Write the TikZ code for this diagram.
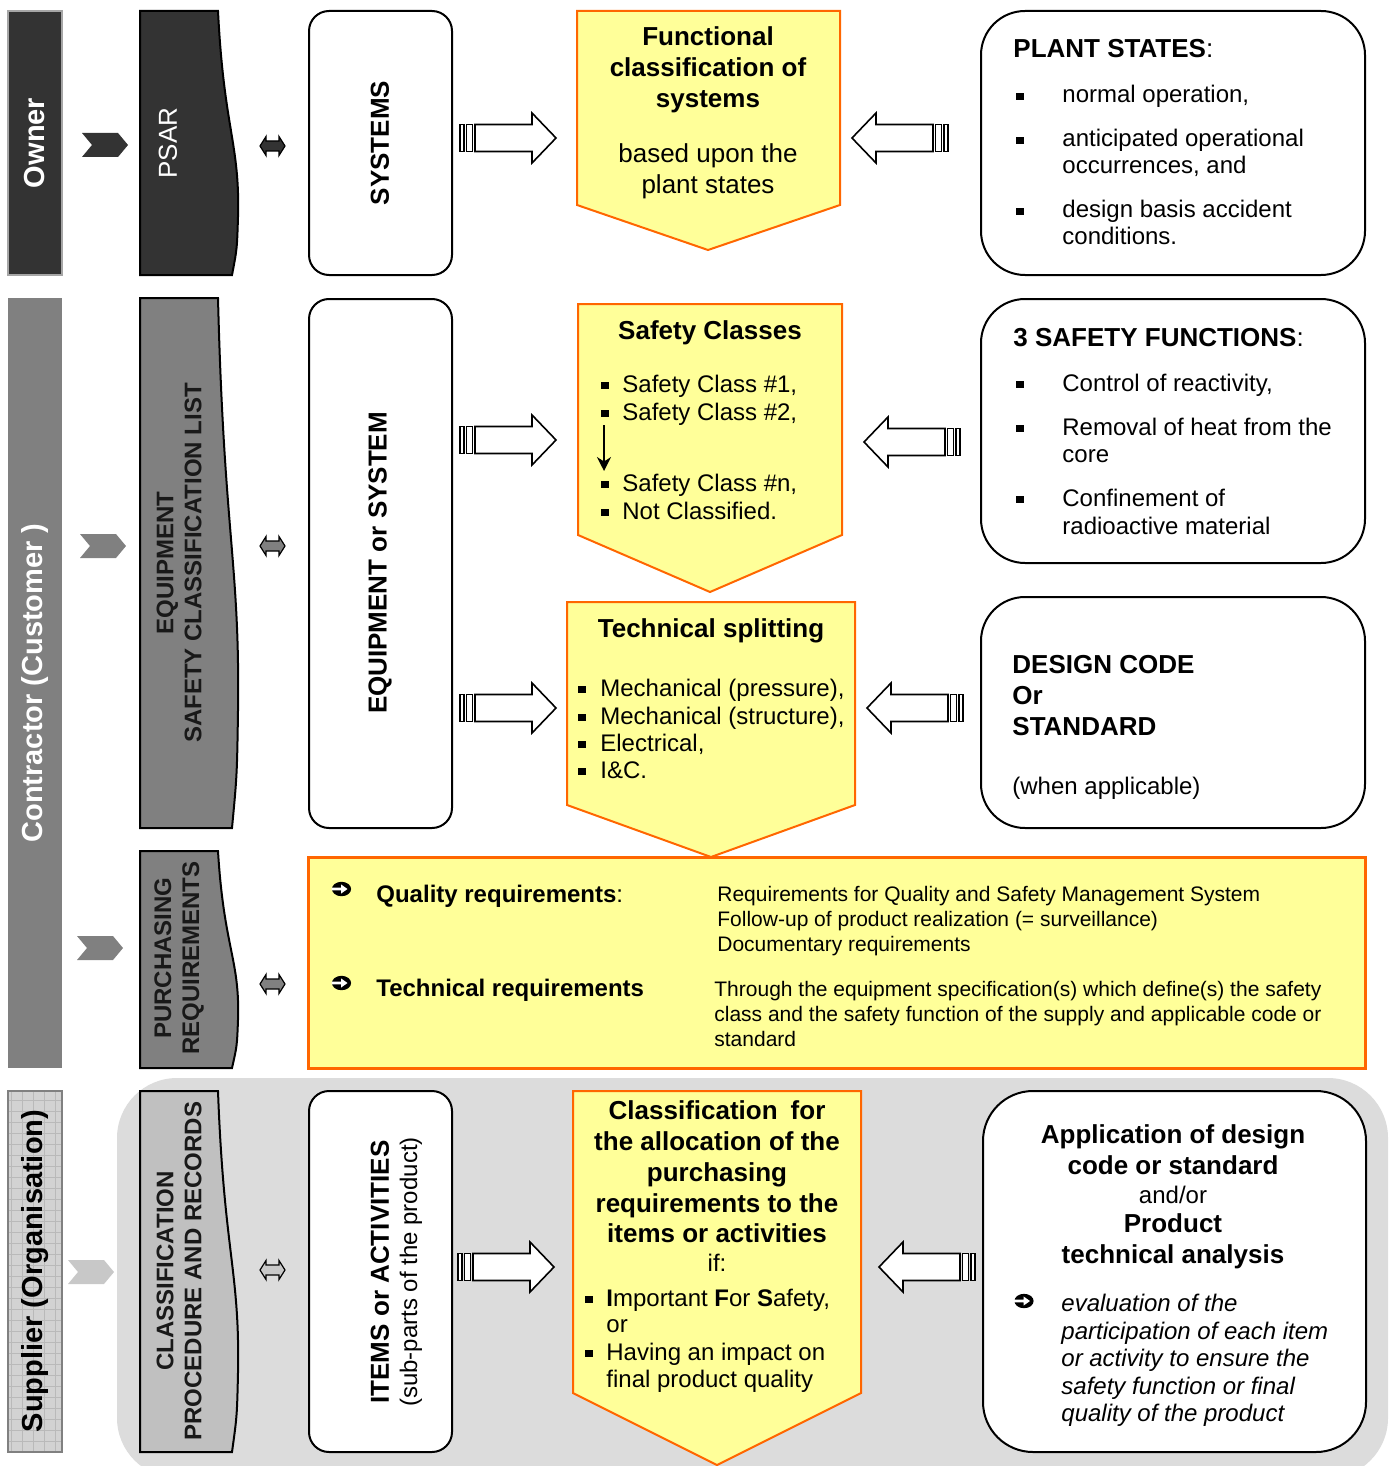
\documentclass[tikz,border=0pt]{standalone}
\usepackage{fontspec}
\setmainfont{Liberation Sans}
\usetikzlibrary{arrows.meta}
\definecolor{cdark}{HTML}{333333}
\definecolor{cmid}{HTML}{808080}
\definecolor{clight}{HTML}{D2D2D2}
\definecolor{cdoc}{HTML}{C0C0C0}
\definecolor{cchev}{HTML}{C8C8C8}
\definecolor{cyel}{HTML}{FFFF99}
\definecolor{corg}{HTML}{FF6600}
\definecolor{cbg}{HTML}{DCDCDC}
\newcommand\fA{\fontsize{13}{15.5}\selectfont}
\newcommand\fB{\fontsize{12}{14}\selectfont}
\newcommand\fC{\fontsize{10.5}{12.5}\selectfont}
\newcommand\fD{\fontsize{14.5}{17}\selectfont}
\newcommand\bul[1]{\makebox[#1][l]{\rule[1.6pt]{3.6pt}{3.6pt}}}
\tikzset{
  chev/.pic={\path[pic actions] (0,-12) -- (36,-12) -- (46,0) -- (36,12) -- (0,12) -- (10,0) -- cycle;},
  dbl/.pic={\path[pic actions, draw=black, line width=0.6pt] (-12.5,0) -- (-6.5,-9.5) -- (-6.5,-5) -- (6.5,-5) -- (6.5,-9.5) -- (12.5,0) -- (6.5,9.5) -- (6.5,5) -- (-6.5,5) -- (-6.5,9.5) -- cycle;},
  blk/.pic={
    \path[draw=black, fill=white, line width=0.8pt] (0,-13.5) rectangle (4,13.5) (6.5,-13.5) rectangle (12.5,13.5);
    \path[draw=black, fill=white, line width=0.8pt] (15,-13.5) -- (72,-13.5) -- (72,-25) -- (96,0) -- (72,25) -- (72,13.5) -- (15,13.5) -- cycle;},
  circarr/.pic={
    \fill[black] (0,0) ellipse [x radius=4.8pt, y radius=3.6pt];
    \fill[white] (-10,-1.4) -- (-0.5,-1.4) -- (-0.5,-4.6) -- (6,0) -- (-0.5,4.6) -- (-0.5,1.4) -- (-10,1.4) -- cycle;},
  tx/.style={inner sep=0pt, anchor=base west, font=\fB},
  ttl/.style={inner sep=0pt, anchor=base, font=\fA\bfseries},
  ctr/.style={inner sep=0pt, anchor=base, font=\fA},
  rot/.style={inner sep=0pt, rotate=90},
  penta/.style={draw=corg, fill=cyel, line width=1pt, line join=miter},
  wbox/.style={draw=black, fill=white, line width=1pt},
  docbox/.style={draw=black, line width=1pt},
}
\begin{document}
\begin{tikzpicture}[x=0.5pt,y=-0.5pt]
\useasboundingbox (0,0) rectangle (1388,1466);
% supplier background
\fill[cbg, rounded corners=30pt] (117,1078) rectangle (1388,1478);

% left bands
\draw[draw=gray!70, line width=1pt, fill=cdark] (8,11) rectangle (62,275);
\fill[cmid] (8,298) rectangle (62,1068);
\draw[draw=gray, line width=1pt, fill=clight] (8,1091) rectangle (62,1452);
\draw[gray!55, line width=0.25pt, step=5.5pt] (8,1091) grid (62,1452);
\draw[draw=gray, line width=1pt] (8,1091) rectangle (62,1452);
\node[rot, font=\fD\bfseries, text=white] (ownt) at (35,143) {Owner};
\node[rot, font=\fD\bfseries, text=white] (cont) at (35,683) {Contractor (Customer )};
\node[rot, font=\fD\bfseries, text=black] (supt) at (35,1271) {Supplier (Organisation)};

% chevrons
\pic[fill=cdark] (ch1) at (82,145) {chev};
\pic[fill=cmid] (ch2) at (80,546) {chev};
\pic[fill=cmid] (ch3) at (77,948) {chev};
\pic[fill=cchev] (ch4) at (68,1272) {chev};

% document shapes
\draw[docbox, fill=cdark] (140,11) -- (218,11) .. controls (224,130) and (240,143) .. (238,217) .. controls (237,249) .. (232,275) -- (140,275) -- cycle;
\draw[docbox, fill=cmid] (140,298) -- (218,298) .. controls (224,537) and (240,563) .. (238,711) .. controls (237,775) .. (232,828) -- (140,828) -- cycle;
\draw[docbox, fill=cmid] (140,851) -- (218,851) .. controls (224,949) and (240,959) .. (238,1020) .. controls (237,1046) .. (232,1068) -- (140,1068) -- cycle;
\draw[docbox, fill=cdoc] (140,1091) -- (218,1091) .. controls (224,1253) and (240,1271) .. (238,1373) .. controls (237,1416) .. (232,1452) -- (140,1452) -- cycle;
\node[rot, font=\fA, text=white] (psar) at (168,143) {PSAR};
\node[rot, font=\fB\bfseries, align=center, text=black!90] (eqd) at (179,563) {EQUIPMENT\\SAFETY CLASSIFICATION LIST};
\node[rot, font=\fB\bfseries, align=center, text=black!90] (pud) at (179,958) {PURCHASING\\REQUIREMENTS};
\node[rot, font=\fB\bfseries, align=center, text=black!90] (cld) at (179,1271) {CLASSIFICATION\\PROCEDURE AND RECORDS};

% double arrows
\pic[fill=cdark] (d1) at (272.5,146) {dbl};
\pic[fill=cmid] (d2) at (272.5,546) {dbl};
\pic[fill=cmid] (d3) at (272.5,984) {dbl};
\pic[fill=cchev] (d4) at (272.5,1270) {dbl};

% white rounded boxes, column 3
\draw[wbox, rounded corners=10pt] (309,11) rectangle (452,275);
\draw[wbox, rounded corners=10pt] (309,299) rectangle (452,828);
\draw[wbox, rounded corners=10pt] (309,1091) rectangle (452,1452);
\node[rot, font=\fA\bfseries] (sys) at (380,143) {SYSTEMS};
\node[rot, font=\fA\bfseries] (eqs) at (380,563) {EQUIPMENT or SYSTEM};
\node[rot, font=\fA\bfseries] (ita) at (380,1272) {ITEMS or ACTIVITIES};
\node[rot, font=\fB] (itb) at (411,1272) {(sub-parts of the product)};

% block arrows
\pic (r1) at (460,138) {blk};
\pic (r2) at (460,440) {blk};
\pic (r3) at (460,708) {blk};
\pic (r4) at (458,1267) {blk};
\pic[xscale=-1] (l1) at (948,138) {blk};
\pic[xscale=-1] (l2) at (960,442) {blk};
\pic[xscale=-1] (l3) at (963,708) {blk};
\pic[xscale=-1] (l4) at (975,1267) {blk};

% right rounded boxes
\draw[wbox, rounded corners=22pt] (981,11) rectangle (1365,275);
\draw[wbox, rounded corners=22pt] (981,299) rectangle (1365,563);
\draw[wbox, rounded corners=22pt] (981,597) rectangle (1365,828);
\draw[wbox, rounded corners=25pt] (983,1091) rectangle (1366,1452);

% pentagons
\draw[penta] (577,11) -- (840,11) -- (840,205) -- (708,250) -- (577,205) -- cycle;
\draw[penta] (578,304) -- (842,304) -- (842,535) -- (710,592) -- (578,535) -- cycle;
\draw[penta] (567,602) -- (855,602) -- (855,805) -- (711,857) -- (567,805) -- cycle;
\draw[penta] (573,1091) -- (861,1091) -- (861,1393) -- (717,1465) -- (573,1393) -- cycle;

% purchasing box
\draw[draw=corg, fill=cyel, line width=1.5pt] (308,857) rectangle (1365,1068);

% --- Row 1 texts
\node[ttl] (f1) at (708,46) {Functional};
\node[ttl] (f2) at (708,77) {classification of};
\node[ttl] (f3) at (708,108) {systems};
\node[ctr] (f4) at (708,163) {based upon the};
\node[ctr] (f5) at (708,194) {plant states};

\node[tx, font=\fA] (ps0) at (1013,58) {\textbf{PLANT STATES}:};
\node[tx] (ps1) at (1016,103) {\bul{23pt}normal operation,};
\node[tx] (ps2) at (1016,147) {\bul{23pt}anticipated operational};
\node[tx] (ps3) at (1062,174) {occurrences, and};
\node[tx] (ps4) at (1016,218) {\bul{23pt}design basis accident};
\node[tx] (ps5) at (1062,245) {conditions.};

% --- Safety classes
\node[ttl] (sc0) at (710,339) {Safety Classes};
\node[tx] (sc1) at (601,392) {\bul{10.5pt}Safety Class \#1,};
\node[tx] (sc2) at (601,420) {\bul{10.5pt}Safety Class \#2,};
\node[tx] (sc3) at (601,491) {\bul{10.5pt}Safety Class \#n,};
\node[tx] (sc4) at (601,519) {\bul{10.5pt}Not Classified.};
\coordinate (scA) at (604,425);
\coordinate (scB) at (604,471);
\draw[line width=0.8pt, -{Stealth[length=7pt,width=7pt]}] (scA) -- (scB);

\node[tx, font=\fA] (sf0) at (1013,346) {\textbf{3 SAFETY FUNCTIONS}:};
\node[tx] (sf1) at (1016,391) {\bul{23pt}Control of reactivity,};
\node[tx] (sf2) at (1016,435) {\bul{23pt}Removal of heat from the};
\node[tx] (sf3) at (1062,462) {core};
\node[tx] (sf4) at (1016,506) {\bul{23pt}Confinement of};
\node[tx] (sf5) at (1062,534) {radioactive material};

% --- Technical splitting
\node[ttl] (ts0) at (711,637) {Technical splitting};
\node[tx] (ts1) at (578,696) {\bul{11pt}Mechanical (pressure),};
\node[tx] (ts2) at (578,724) {\bul{11pt}Mechanical (structure),};
\node[tx] (ts3) at (578,751) {\bul{11pt}Electrical,};
\node[tx] (ts4) at (578,778) {\bul{11pt}I\&C.};

\node[tx, font=\fA\bfseries] (dc1) at (1012,673) {DESIGN CODE};
\node[tx, font=\fA\bfseries] (dc2) at (1012,704) {Or};
\node[tx, font=\fA\bfseries] (dc3) at (1012,735) {STANDARD};
\node[tx] (dc4) at (1012,794) {(when applicable)};

% --- Purchasing box
\pic (qa) at (341.5,889) {circarr};
\node[tx] (qb) at (376,902) {\textbf{Quality requirements}:};
\node[tx, font=\fC] (qc1) at (717,901) {Requirements for Quality and Safety Management System};
\node[tx, font=\fC] (qc2) at (717,926) {Follow-up of product realization (= surveillance)};
\node[tx, font=\fC] (qc3) at (717,951) {Documentary requirements};
\pic (ta) at (341.5,983) {circarr};
\node[tx, font=\fB\bfseries] (tb) at (376,996) {Technical requirements};
\node[tx, font=\fC] (tc1) at (714,996) {Through the equipment specification(s) which define(s) the safety};
\node[tx, font=\fC] (tc2) at (714,1021) {class and the safety function of the supply and applicable code or};
\node[tx, font=\fC] (tc3) at (714,1046) {standard};

% --- Classification pentagon
\node[ttl] (cp1) at (717,1119) {Classification\hspace{0.5em}for};
\node[ttl] (cp2) at (717,1150) {the allocation of the};
\node[ttl] (cp3) at (717,1181) {purchasing};
\node[ttl] (cp4) at (717,1212) {requirements to the};
\node[ttl] (cp5) at (717,1242) {items or activities};
\node[inner sep=0pt, anchor=base, font=\fB] (cp6) at (717,1271) {if:};
\node[tx] (cp7) at (585,1306) {\bul{10.5pt}\textbf{I}mportant \textbf{F}or \textbf{S}afety,};
\node[tx] (cp8) at (606,1332) {or};
\node[tx] (cp9) at (585,1360) {\bul{10.5pt}Having an impact on};
\node[tx] (cp10) at (606,1387) {final product quality};

% --- Application box
\node[ttl] (ap1) at (1173,1143) {Application of design};
\node[ttl] (ap2) at (1173,1174) {code or standard};
\node[inner sep=0pt, anchor=base, font=\fB] (ap3) at (1173,1203) {and/or};
\node[ttl] (ap4) at (1173,1232) {Product};
\node[ttl] (ap5) at (1173,1263) {technical analysis};
\pic (ap6) at (1024,1301) {circarr};
\node[tx, font=\fB\itshape] (ap7) at (1061,1311) {evaluation of the};
\node[tx, font=\fB\itshape] (ap8) at (1061,1339) {participation of each item};
\node[tx, font=\fB\itshape] (ap9) at (1061,1366) {or activity to ensure the};
\node[tx, font=\fB\itshape] (ap10) at (1061,1394) {safety function or final};
\node[tx, font=\fB\itshape] (ap11) at (1061,1421) {quality of the product};
\end{tikzpicture}
\end{document}
